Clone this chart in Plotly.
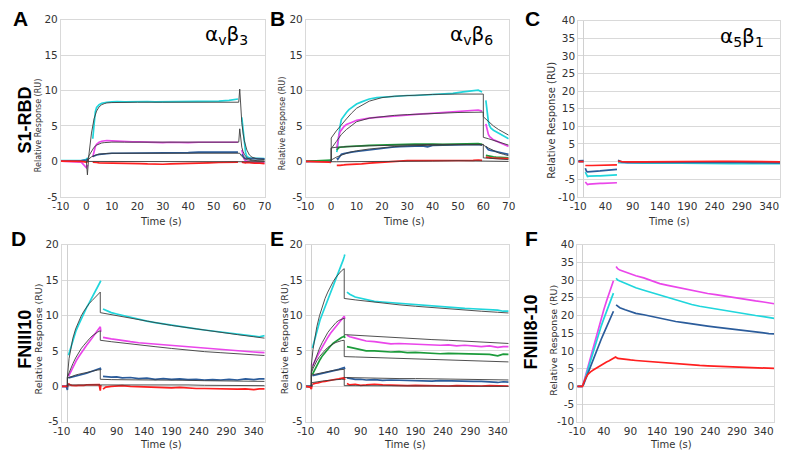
import plotly.graph_objects as go

# ---------------- data ----------------
# Panel A : S1-RBD on avb3
A_t = [-10, -7, -4, -2, 0, 0.5, None,
       2.5, 3, 3.5, 4, 5, 6, 7, 8, 10, 12, 15, 18, 21, 24, 27, 30, 33, 36, 40, 44, 48, 52, 56, 58, 59.5, None,
       61, 61.5, 62, 62.5, 63, 64, 65, 66, 68, 70]
A_cyan = [0.1, 0.05, 0.1, 0.1, 0.3, 0.5, None,
          3.2, 5.6, 7.0, 7.6, 8.0, 8.2, 8.3, 8.35, 8.4, 8.45, 8.4, 8.45, 8.4, 8.45, 8.4, 8.4, 8.45, 8.4, 8.45, 8.4, 8.45, 8.5, 8.6, 8.75, 8.8, None,
          6.2, 4.2, 2.2, 1.2, 0.7, 0.5, 0.45, 0.45, 0.4, 0.4]
A_magenta = [0.05, 0.0, 0.0, -0.1, -0.9, -0.5, None,
             0.6, 1.6, 2.1, 2.4, 2.7, 2.85, 2.95, 2.95, 2.9, 2.85, 2.8, 2.75, 2.75, 2.7, 2.7, 2.65, 2.7, 2.65, 2.65, 2.7, 2.7, 2.7, 2.7, 2.75, 2.7, None,
             1.6, 0.8, 0.3, 0.1, 0.0, -0.1, -0.15, -0.15, -0.2, -0.2]
A_blue = [0.05, 0.05, 0.05, 0.1, 0.2, 0.3, None,
          0.7, 0.8, 0.85, 0.9, 1.0, 1.05, 1.1, 1.1, 1.15, 1.15, 1.15, 1.15, 1.15, 1.2, 1.2, 1.2, 1.25, 1.25, 1.25, 1.3, 1.3, 1.3, 1.3, 1.35, 1.3, None,
          1.0, 0.7, 0.5, 0.45, 0.4, 0.4, 0.4, 0.4, 0.35, 0.35]
A_red = [0.05, 0.05, 0.0, 0.0, -0.1, -0.1, None,
         -0.1, -0.15, -0.15, -0.15, -0.2, -0.2, -0.2, -0.2, -0.2, -0.25, -0.25, -0.3, -0.3, -0.35, -0.4, -0.4, -0.35, -0.3, -0.25, -0.2, -0.2, -0.15, -0.1, -0.1, -0.1, None,
         -0.1, -0.15, -0.2, -0.2, -0.15, -0.2, -0.2, -0.25, -0.25, -0.3]
A_ft = [0, 0.4, 1, 2, 3, 4, 5, 6, 7, 8, 10, 15, 20, 30, 40, 50, 59.8, 60.2, 60.6, 61, 61.5, 62, 63, 64, 65, 67, 70]
A_fit_cyan = [0, -1.9, 1.0, 4.0, 6.0, 7.1, 7.7, 8.0, 8.15, 8.25, 8.3, 8.35, 8.35, 8.35, 8.35, 8.35, 8.35, 10.2, 7.0, 5.5, 4.0, 2.9, 1.6, 0.9, 0.6, 0.35, 0.25]
A_fit_magenta = [0, 0.2, 0.8, 1.5, 2.0, 2.3, 2.5, 2.6, 2.65, 2.7, 2.72, 2.72, 2.72, 2.72, 2.72, 2.72, 2.72, 4.6, 2.6, 2.0, 1.4, 1.0, 0.5, 0.3, 0.2, 0.1, 0.05]
A_fit_blue = [0, 0.1, 0.35, 0.65, 0.85, 0.95, 1.02, 1.07, 1.1, 1.12, 1.15, 1.15, 1.15, 1.15, 1.15, 1.15, 1.15, 1.15, 0.9, 0.7, 0.5, 0.38, 0.25, 0.15, 0.1, 0.06, 0.03]
A_fit_red = [0, 0, -0.05, -0.05, -0.05, -0.05, -0.05, -0.05, -0.05, -0.05, -0.05, -0.05, -0.05, -0.05, -0.05, -0.05, -0.05, -0.05, -0.05, -0.05, -0.05, -0.05, -0.05, -0.05, -0.05, -0.05, -0.05]

# Panel B : S1-RBD on avb6
B_t = [-10, -7, -4, -2, -1, 0, None,
       2.2, 2.6, 3, 3.5, 4, 5, 6, 7, 8, 10, 12, 15, 18, 21, 24, 27, 30, 33, 36, 38, 40, 44, 48, 52, 56, 58, 59.5, None,
       61, 61.5, 62, 62.5, 63, 64, 65, 66, 68, 70]
B_cyan = [0.05, 0.0, 0.0, 0.05, 0.05, 0.1, None,
          1.3, 2.5, 3.8, 5.0, 5.9, 6.5, 6.9, 7.3, 7.6, 8.1, 8.4, 8.8, 9.0, 9.1, 9.15, 9.2, 9.3, 9.3, 9.35, 9.35, 9.4, 9.5, 9.6, 9.8, 9.9, 10.05, 9.8, None,
          8.6, 7.0, 5.6, 5.0, 4.7, 4.4, 4.2, 3.95, 3.55, 3.2]
B_magenta = [0, 0, 0, 0, 0, 0.05, None,
             1.8, 2.8, 3.6, 4.2, 4.5, 4.9, 5.2, 5.4, 5.5, 5.8, 5.95, 6.1, 6.2, 6.3, 6.4, 6.45, 6.55, 6.6, 6.7, 6.75, 6.8, 6.9, 6.95, 7.0, 7.1, 7.25, 7.1, None,
             5.3, 4.3, 3.8, 3.5, 3.3, 3.05, 2.9, 2.75, 2.45, 2.1]
B_green = [0.0, 0.05, 0.1, 0.15, 0.2, 0.2, None,
           1.6, 1.8, 1.95, 2.0, 2.05, 2.05, 2.1, 2.1, 2.1, 2.15, 2.2, 2.25, 2.3, 2.35, 2.4, 2.4, 2.4, 2.45, 2.45, 2.4, 2.45, 2.4, 2.45, 2.45, 2.5, 2.5, 2.4, None,
           0.85, 0.8, 0.75, 0.7, 0.7, 0.65, 0.6, 0.6, 0.55, 0.5]
B_blue = [0, 0, 0, 0, 0, 0, None,
          0.5, 0.3, 0.5, 0.8, 1.0, 1.1, 1.2, 1.25, 1.3, 1.4, 1.5, 1.65, 1.8, 1.9, 2.0, 2.1, 2.15, 2.2, 2.2, 2.05, 2.25, 2.3, 2.35, 2.35, 2.4, 2.4, 2.3, None,
          2.1, 1.8, 1.65, 1.6, 1.55, 1.45, 1.35, 1.3, 1.15, 1.0]
B_red = [0, 0, 0, -0.05, -0.1, -0.15, None,
         -0.55, -0.6, -0.55, -0.55, -0.5, -0.5, -0.45, -0.45, -0.4, -0.4, -0.35, -0.25, -0.15, -0.05, 0.0, 0.05, 0.1, 0.1, 0.1, 0.05, 0.1, 0.05, 0.1, 0.1, 0.15, 0.2, 0.15, None,
         0.6, 0.55, 0.5, 0.5, 0.5, 0.45, 0.45, 0.45, 0.45, 0.4]
B_ft = [0, 0, 2, 4, 6, 8, 10, 15, 20, 25, 30, 40, 50, 60, 60, 62, 64, 66, 68, 70]
B_fit_cyan = [0, 3.3, 4.3, 5.2, 6.0, 6.8, 7.5, 8.5, 9.0, 9.2, 9.3, 9.45, 9.5, 9.5, 6.3, 5.6, 5.0, 4.5, 4.1, 3.7]
B_fit_magenta = [0, 1.8, 2.8, 3.8, 4.5, 5.1, 5.6, 6.1, 6.35, 6.5, 6.6, 6.8, 6.9, 6.95, 3.4, 3.2, 3.0, 2.8, 2.55, 2.3]
B_fit_green = [0, 1.9, 2.0, 2.05, 2.1, 2.1, 2.15, 2.2, 2.25, 2.3, 2.35, 2.4, 2.4, 2.4, 2.3, 1.9, 1.5, 1.2, 1.0, 0.8]
B_fit_blue = [0, 0.2, 0.6, 0.9, 1.15, 1.35, 1.5, 1.75, 1.95, 2.1, 2.2, 2.3, 2.35, 2.35, 0.5, 0.45, 0.4, 0.35, 0.3, 0.25]
B_fit_red = [0, -0.05, -0.05, -0.05, -0.05, -0.05, -0.05, 0.0, 0.0, 0.0, 0.05, 0.05, 0.1, 0.1, 0.0, 0.0, 0.0, 0.0, 0.0, 0.0]

# Panel C : S1-RBD on a5b1
C_t = [-10, -5, 0, None,
       3, 5, 7, 10, 15, 20, 25, 30, 35, 40, 45, 50, 55, 60, 61, None,
       63, 65, 70, 80, 90, 110, 130, 150, 170, 190, 210, 230, 250, 270, 290, 310, 330, 350, 360]
C_red = [0, 0, 0, None,
         -1.1, -1.15, -1.15, -1.1, -1.1, -1.1, -1.05, -1.05, -1.05, -1.0, -1.0, -1.0, -1.0, -0.95, -0.95, None,
         0.0, 0.1, 0.0, -0.1, -0.1, -0.1, -0.05, -0.05, 0.0, 0.0, 0.05, 0.1, 0.1, 0.05, 0.05, 0.0, 0.0, -0.05, -0.05]
C_blue = [0.2, 0.2, 0.3, None,
          -1.9, -2.7, -2.9, -2.9, -2.8, -2.8, -2.7, -2.65, -2.6, -2.5, -2.5, -2.4, -2.3, -2.2, -2.2, None,
          0.4, 0.2, -0.1, -0.2, -0.25, -0.2, -0.2, -0.15, -0.2, -0.2, -0.2, -0.25, -0.2, -0.3, -0.25, -0.3, -0.3, -0.3, -0.35]
C_cyan = [0, 0, 0, None,
          -3.0, -3.8, -4.2, -4.1, -4.15, -4.1, -4.05, -4.05, -4.0, -3.95, -3.9, -3.85, -3.8, -3.75, -3.75, None,
          -0.2, -0.3, -0.3, -0.35, -0.4, -0.4, -0.35, -0.4, -0.4, -0.45, -0.45, -0.45, -0.5, -0.55, -0.5, -0.55, -0.6, -0.6, -0.6]
C_magenta = [0, 0, 0, None,
             -5.8, -6.3, -6.5, -6.4, -6.3, -6.3, -6.25, -6.2, -6.2, -6.15, -6.1, -6.1, -6.05, -6.0, -6.0, None,
             -0.1, -0.2, -0.25, -0.3, -0.3, -0.3, -0.3, -0.3, -0.3, -0.3, -0.3, -0.3, -0.3, -0.35, -0.35, -0.35, -0.4, -0.4, -0.4]

# Panel D : FNIII10 on avb3
D_t = [-10, -5, -2, 0, 1, None,
       2, 5, 8, 12, 16, 20, 25, 30, 35, 40, 45, 50, 55, 58, 60, 61, None,
       65, 70, 80, 90, 100, 115, 130, 145, 160, 175, 190, 205, 220, 235, 250, 265, 280, 295, 310, 325, 340, 350, 360]
D_cyan = [0, 0, 0, 0, 0.3, None,
          4.4, 5.2, 6.0, 7.0, 7.9, 8.6, 9.5, 10.3, 11.1, 11.8, 12.5, 13.2, 13.9, 14.4, 14.8, 14.9, None,
          10.9, 10.7, 10.4, 10.2, 10.0, 9.7, 9.45, 9.2, 9.0, 8.8, 8.6, 8.45, 8.25, 8.1, 7.95, 7.8, 7.6, 7.5, 7.35, 7.25, 7.1, 7.0, 7.15]
D_magenta = [0, 0, 0, 0, 0.3, None,
             1.4, 1.9, 2.4, 3.0, 3.6, 4.1, 4.7, 5.3, 5.8, 6.3, 6.8, 7.3, 7.8, 8.1, 8.4, 7.7, None,
             6.9, 6.8, 6.7, 6.6, 6.45, 6.3, 6.15, 6.05, 5.95, 5.85, 5.75, 5.65, 5.55, 5.5, 5.4, 5.3, 5.2, 5.1, 5.0, 4.95, 4.85, 4.8, 4.75]
D_blue = [0, 0, 0, -0.5, 0.5, None,
          1.2, 1.25, 1.3, 1.35, 1.45, 1.5, 1.6, 1.75, 1.85, 2.0, 2.1, 2.25, 2.4, 2.5, 2.55, 2.3, None,
          1.4, 1.35, 1.3, 1.35, 1.2, 1.25, 1.1, 1.15, 1.0, 1.1, 1.0, 1.05, 0.95, 1.0, 0.9, 0.95, 0.9, 1.0, 0.9, 1.05, 0.95, 1.05, 1.05]
D_red = [0, 0.05, 0, 0, 0.4, None,
         0.4, 0.2, 0.15, 0.1, 0.1, 0.15, 0.1, 0.15, 0.2, 0.2, 0.25, 0.2, 0.2, 0.25, -0.6, 0.2, None,
         -0.4, -0.1, 0.0, 0.05, 0.1, 0.0, -0.05, -0.1, -0.15, -0.1, -0.2, -0.15, -0.25, -0.3, -0.3, -0.35, -0.3, -0.35, -0.4, -0.35, -0.45, -0.35, -0.35]
D_ft = [0, 0, 3, 6, 10, 15, 20, 25, 30, 35, 40, 45, 50, 55, 60, 60, 80, 100, 130, 160, 190, 220, 250, 280, 310, 340, 360]
D_fit_cyan = [0, 1.3, 3.9, 5.4, 6.8, 8.1, 9.1, 9.9, 10.6, 11.2, 11.7, 12.1, 12.5, 12.9, 13.3, 10.4, 10.1, 9.8, 9.4, 9.0, 8.6, 8.25, 7.9, 7.6, 7.3, 7.0, 6.8]
D_fit_magenta = [0, 1.3, 1.9, 2.5, 3.2, 4.0, 4.7, 5.3, 5.8, 6.3, 6.7, 7.1, 7.4, 7.65, 7.85, 6.5, 6.3, 6.1, 5.85, 5.6, 5.35, 5.1, 4.9, 4.75, 4.6, 4.45, 4.35]
D_fit_blue = [0, 1.2, 1.25, 1.35, 1.45, 1.6, 1.7, 1.8, 1.9, 2.0, 2.1, 2.15, 2.25, 2.3, 2.35, 1.0, 0.95, 0.95, 0.9, 0.9, 0.85, 0.85, 0.8, 0.8, 0.75, 0.75, 0.7]
D_fit_red = [0, 0.2, 0.2, 0.2, 0.2, 0.2, 0.2, 0.2, 0.2, 0.2, 0.2, 0.2, 0.2, 0.2, 0.2, 0.3, 0.3, 0.25, 0.25, 0.2, 0.2, 0.2, 0.15, 0.15, 0.1, 0.1, 0.1]

# Panel E : FNIII10 on avb6
E_t = [-10, -5, -2, 0, 1, None,
       2, 5, 8, 12, 16, 20, 25, 30, 35, 40, 45, 50, 55, 58, 60, 61, None,
       65, 70, 80, 90, 100, 115, 130, 145, 160, 175, 190, 205, 220, 235, 250, 265, 280, 295, 310, 325, 340, 350, 360]
E_cyan = [0, 0, 0, 0, 0.3, None,
          5.4, 6.3, 7.3, 8.4, 9.4, 10.2, 11.2, 12.1, 13.1, 14.0, 15.0, 16.0, 17.0, 17.8, 18.3, 18.6, None,
          13.3, 13.0, 12.6, 12.4, 12.2, 12.0, 11.9, 11.8, 11.7, 11.6, 11.5, 11.4, 11.3, 11.25, 11.15, 11.1, 11.0, 10.95, 10.9, 10.85, 10.75, 10.6, 10.6]
E_magenta = [0, 0, 0, 0, 0.3, None,
             2.9, 3.3, 3.8, 4.4, 5.0, 5.6, 6.3, 6.9, 7.5, 8.0, 8.5, 9.0, 9.4, 9.7, 9.9, 9.5, None,
             7.2, 7.0, 6.8, 6.6, 6.4, 6.3, 6.1, 6.0, 6.05, 6.0, 5.9, 5.95, 5.9, 5.8, 5.85, 5.7, 5.8, 5.75, 5.6, 5.7, 5.5, 5.6, 5.6]
E_green = [0, 0, 0, 0, 0.3, None,
           1.7, 2.2, 2.7, 3.3, 3.8, 4.3, 4.8, 5.3, 5.7, 6.1, 6.4, 6.7, 6.9, 7.0, 7.1, 6.8, None,
           5.6, 5.5, 5.3, 5.2, 5.0, 5.0, 4.9, 4.85, 4.9, 4.75, 4.8, 4.7, 4.7, 4.6, 4.65, 4.6, 4.55, 4.6, 4.5, 4.5, 4.3, 4.55, 4.5]
E_blue = [0, 0, 0, 0, 0.3, None,
          1.5, 1.55, 1.6, 1.65, 1.75, 1.85, 1.95, 2.05, 2.1, 2.2, 2.3, 2.4, 2.5, 2.6, 2.65, 2.4, None,
          1.2, 1.1, 1.0, 1.0, 0.9, 0.95, 0.85, 0.9, 0.85, 0.8, 0.85, 0.8, 0.75, 0.8, 0.75, 0.7, 0.75, 0.7, 0.7, 0.65, 0.55, 0.65, 0.6]
E_red = [0, 0, -0.1, -0.4, 0.1, None,
         0.3, 0.4, 0.45, 0.5, 0.6, 0.65, 0.7, 0.8, 0.9, 0.95, 1.0, 1.05, 1.1, 1.15, 1.2, 0.9, None,
         0.4, 0.2, 0.3, 0.15, 0.2, 0.3, 0.2, 0.15, 0.2, 0.1, 0.15, 0.1, 0.05, 0.0, 0.05, 0.1, 0.05, 0.1, 0.05, 0.1, 0.1, 0.05, 0.05]
E_ft = [0, 0, 3, 6, 10, 15, 20, 25, 30, 35, 40, 45, 50, 55, 60, 60, 80, 100, 130, 160, 190, 220, 250, 280, 310, 340, 360]
E_fit_cyan = [0, 3.0, 5.2, 6.8, 8.4, 10.0, 11.3, 12.4, 13.3, 14.1, 14.8, 15.4, 15.9, 16.3, 16.6, 12.4, 12.2, 12.0, 11.75, 11.5, 11.3, 11.1, 10.9, 10.75, 10.6, 10.45, 10.35]
E_fit_magenta = [0, 2.2, 2.9, 3.6, 4.4, 5.4, 6.2, 7.0, 7.6, 8.1, 8.6, 9.0, 9.3, 9.5, 9.6, 7.3, 7.2, 7.1, 6.95, 6.85, 6.7, 6.6, 6.5, 6.35, 6.25, 6.1, 6.05]
E_fit_green = [0, 1.9, 2.5, 3.0, 3.6, 4.2, 4.7, 5.1, 5.5, 5.8, 6.0, 6.2, 6.35, 6.45, 6.5, 4.2, 4.15, 4.1, 4.0, 3.95, 3.85, 3.8, 3.7, 3.65, 3.6, 3.5, 3.45]
E_fit_blue = [0, 1.6, 1.65, 1.7, 1.8, 1.9, 2.0, 2.1, 2.15, 2.2, 2.25, 2.3, 2.35, 2.4, 2.4, 1.25, 1.2, 1.2, 1.15, 1.1, 1.1, 1.05, 1.0, 1.0, 0.95, 0.95, 0.9]
E_fit_red = [0, 0.5, 0.55, 0.6, 0.65, 0.7, 0.75, 0.8, 0.85, 0.9, 0.9, 0.95, 0.95, 1.0, 1.0, 0.1, 0.1, 0.1, 0.05, 0.05, 0.05, 0.0, 0.0, 0.0, 0.0, 0.0, 0.0]

# Panel F : FNIII8-10 on a5b1
F_t = [-10, -6, -3, 0, None,
       1, 3, 6, 10, 15, 20, 25, 30, 35, 40, 45, 50, 55, 58, None,
       63, 66, 70, 80, 90, 100, 115, 130, 145, 160, 175, 190, 205, 220, 235, 250, 265, 280, 295, 310, 325, 340, 350, 360]
F_magenta = [0, 0, 0, 0, None,
             0.5, 1.6, 3.3, 5.6, 8.5, 11.3, 14.0, 16.6, 19.2, 21.7, 24.1, 26.4, 28.6, 29.8, None,
             33.8, 33.2, 32.8, 32.2, 31.7, 31.2, 30.6, 29.8, 29.0, 28.5, 28.0, 27.5, 27.0, 26.5, 26.2, 25.9, 25.5, 25.2, 24.8, 24.5, 24.1, 23.8, 23.5, 23.3]
F_cyan = [0, 0, 0, 0, None,
          0.3, 1.3, 2.9, 5.0, 7.6, 10.1, 12.5, 14.8, 17.0, 19.1, 21.1, 23.0, 25.0, 26.3, None,
          30.5, 30.0, 29.7, 29.0, 28.4, 27.8, 27.1, 26.4, 25.7, 25.0, 24.4, 23.6, 23.1, 22.6, 22.2, 21.8, 21.5, 21.1, 20.7, 20.4, 20.0, 19.7, 19.4, 19.2]
F_blue = [0, 0, 0, 0, None,
          0.2, 1.0, 2.3, 3.9, 5.9, 7.8, 9.7, 11.5, 13.3, 15.0, 16.7, 18.3, 20.0, 21.2, None,
          23.0, 22.6, 22.2, 21.6, 21.1, 20.6, 20.2, 19.7, 19.2, 18.7, 18.3, 18.0, 17.6, 17.2, 17.0, 16.7, 16.4, 16.1, 15.8, 15.6, 15.3, 15.1, 14.9, 14.8]
F_red_t = [-10, -6, -3, 0, 1, 3, 6, 10, 13, 15, 20, 25, 30, 35, 40, 45, 50, 55, 58, 62, 66, 70, 80, 90, 100,
           115, 130, 145, 160, 175, 190, 205, 220, 235, 250, 265, 280, 295, 310, 325, 340, 350, 360]
F_red = [0, 0, 0, 0, 0.6, 1.4, 2.4, 3.4, 3.9, 4.1, 4.6, 5.1, 5.6, 6.1, 6.6, 6.9, 7.2, 7.6, 7.9, 8.3, 7.9, 7.8, 7.6, 7.45, 7.3,
         7.1, 6.9, 6.7, 6.5, 6.3, 6.1, 6.0, 5.9, 5.8, 5.7, 5.6, 5.55, 5.45, 5.35, 5.3, 5.2, 5.1, 5.05]

# axis tick labels
short_ticks = [-10, 0, 10, 20, 30, 40, 50, 60, 70]
long_ticks = [-10, 40, 90, 140, 190, 240, 290, 340]
y_ticks_20 = [-5, 0, 5, 10, 15, 20]
y_ticks_40 = [-10, -5, 0, 5, 10, 15, 20, 25, 30, 35, 40]

# ---------------- styling ----------------
W, H = 790, 458
CYAN = "#20d6dc"
MAGENTA = "#ea46ea"
BLUE = "#2b5c9b"
GREEN = "#1c9b3b"
RED = "#ff1f1f"
FIT = "#3c3c3c"
GRID = "#d9d9d9"
TXT = "#333333"

fig = go.Figure()

panels = [
    # id, x px, y px, xrange, xticks, yrange, yticks, show x zero line
    (1, (53, 261), (14, 196), [-10, 70], short_ticks, [-5, 20], y_ticks_20, False),
    (2, (303, 510), (14, 196), [-10, 70], short_ticks, [-5, 20], y_ticks_20, False),
    (3, (581, 787), (15, 196), [-10, 360], long_ticks, [-10, 40], y_ticks_40, True),
    (4, (54, 261), (245, 427), [-10, 360], long_ticks, [-5, 20], y_ticks_20, True),
    (5, (303, 510), (245, 427), [-10, 360], long_ticks, [-5, 20], y_ticks_20, True),
    (6, (580, 781), (245, 427), [-10, 360], long_ticks, [-10, 40], y_ticks_40, True),
]

for pid, (x0, x1), (y0, y1), xr, xt, yr, yt, zl in panels:
    sfx = "" if pid == 1 else str(pid)
    fig.layout["xaxis" + sfx] = dict(
        domain=[x0 / W, x1 / W], range=xr, tickvals=xt, ticktext=[str(v) for v in xt],
        anchor="y" + sfx,
        showgrid=False, zeroline=zl, zerolinecolor="#d0d0d0", zerolinewidth=1,
        showline=True, linecolor=GRID, linewidth=1, mirror=True, ticks="",
        tickfont=dict(family="DejaVu Sans", size=10.5, color=TXT), fixedrange=True)
    fig.layout["yaxis" + sfx] = dict(
        domain=[1 - y1 / H, 1 - y0 / H], range=yr, tickvals=yt, ticktext=[str(v) for v in yt],
        anchor="x" + sfx,
        showgrid=True, gridcolor=GRID, gridwidth=1, zeroline=False,
        showline=True, linecolor=GRID, linewidth=1, mirror=True, ticks="",
        tickfont=dict(family="DejaVu Sans", size=10.5, color=TXT), fixedrange=True)


def add(pid, t, y, color, width=1.7):
    sfx = "" if pid == 1 else str(pid)
    fig.add_trace(go.Scatter(x=t, y=y, mode="lines", xaxis="x" + sfx, yaxis="y" + sfx,
                             line=dict(color=color, width=width), hoverinfo="skip",
                             showlegend=False, connectgaps=False))


def fit(pid, t, y):
    add(pid, t, y, FIT, 0.9)


# A
for s, c in [(A_cyan, CYAN), (A_magenta, MAGENTA), (A_blue, BLUE), (A_red, RED)]:
    add(1, A_t, s, c)
for s in [A_fit_cyan, A_fit_magenta, A_fit_blue, A_fit_red]:
    fit(1, A_ft, s)
# B
for s, c in [(B_cyan, CYAN), (B_magenta, MAGENTA), (B_blue, BLUE), (B_green, GREEN), (B_red, RED)]:
    add(2, B_t, s, c)
for s in [B_fit_cyan, B_fit_magenta, B_fit_green, B_fit_blue, B_fit_red]:
    fit(2, B_ft, s)
# C
for s, c in [(C_magenta, MAGENTA), (C_cyan, CYAN), (C_blue, BLUE), (C_red, RED)]:
    add(3, C_t, s, c)
# D
for s, c in [(D_cyan, CYAN), (D_magenta, MAGENTA), (D_blue, BLUE), (D_red, RED)]:
    add(4, D_t, s, c)
for s in [D_fit_cyan, D_fit_magenta, D_fit_blue, D_fit_red]:
    fit(4, D_ft, s)
# E
for s, c in [(E_cyan, CYAN), (E_magenta, MAGENTA), (E_green, GREEN), (E_blue, BLUE), (E_red, RED)]:
    add(5, E_t, s, c)
for s in [E_fit_cyan, E_fit_magenta, E_fit_green, E_fit_blue, E_fit_red]:
    fit(5, E_ft, s)
# F
for s, c in [(F_magenta, MAGENTA), (F_cyan, CYAN), (F_blue, BLUE)]:
    add(6, F_t, s, c)
add(6, F_red_t, F_red, RED)

ann = []


def text(x, y, s, size, bold=False, angle=0, family="DejaVu Sans", color="#000000"):
    ann.append(dict(x=x / W, y=1 - y / H, xref="paper", yref="paper", text=s, showarrow=False,
                    xanchor="center", yanchor="middle", textangle=angle,
                    font=dict(family=family, size=size, color=color)))


# panel letters
for L, x, y in [("A", 12, 13), ("B", 274, 13), ("C", 534, 13), ("D", 10, 239), ("E", 274, 239), ("F", 533, 239)]:
    text(x, y, "<b>%s</b>" % L, 21, family="Liberation Sans")
# row labels
text(16, 117, "<b>S1-RBD</b>", 18, angle=-90, family="Liberation Sans")
text(16, 342, "<b>FNIII10</b>", 18, angle=-90, family="Liberation Sans")
text(533, 335, "<b>FNIII8-10</b>", 18, angle=-90, family="Liberation Sans")
# integrin labels
text(222, 30, "α<sub>v</sub>β<sub>3</sub>", 20)
text(472, 30, "α<sub>v</sub>β<sub>6</sub>", 20)
text(748, 32, "α<sub>5</sub>β<sub>1</sub>", 20)
# axis titles
for x, y, sz in [(30, 123, 8), (280, 121, 8), (554, 117, 10), (30, 342, 9.5), (281, 342, 9.5), (555, 343, 9.5)]:
    text(x, y, "Relative Response (RU)", sz, angle=-90, color=TXT)
for x, y in [(155, 221), (403, 221), (674, 221), (155, 450), (404, 450), (676, 450)]:
    text(x, y, "Time (s)", 10, color=TXT)

fig.update_layout(width=W, height=H, margin=dict(l=0, r=0, t=0, b=0),
                  paper_bgcolor="white", plot_bgcolor="white", annotations=ann,
                  showlegend=False)
fig.write_html("out.html", config={"displayModeBar": False},
               post_script="document.body.style.margin='0';document.body.style.overflow='hidden';")
